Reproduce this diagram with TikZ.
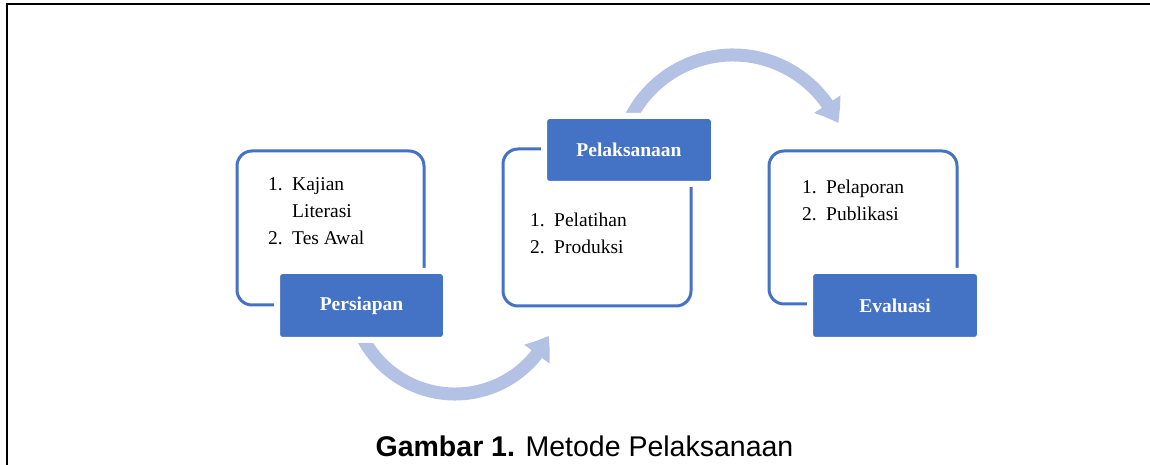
\documentclass[tikz,border=0pt]{standalone}
\usepackage{fontspec}
\setmainfont{Liberation Serif}
\newfontfamily\capfont{Liberation Sans}
\usetikzlibrary{arrows.meta,bending}
\definecolor{boxblue}{RGB}{68,114,196}
\definecolor{arrowblue}{RGB}{179,194,228}
\tikzset{
  outlinebox/.style={draw=boxblue, line width=3pt, rounded corners=15pt, fill=white, inner sep=0pt},
  labelbox/.style={fill=boxblue, draw=white, line width=6pt, rounded corners=5pt, text=white,
    font=\fontsize{19.5}{24}\selectfont\bfseries, inner sep=0pt},
  listtext/.style={anchor=base west, inner sep=0pt, font=\fontsize{19.5}{27}\selectfont},
  bigarrow/.style={arrowblue, line width=13pt, -{Triangle[width=30pt,length=22pt,bend]}},
}
\newcommand{\itemlist}[1]{\begin{tabular}[t]{@{}p{24pt}@{}l@{}}#1\end{tabular}}
\begin{document}
\begin{tikzpicture}[x=1pt,y=1pt]
\useasboundingbox (0,0) rectangle (1150,465);
% frame
\draw[line width=2.4pt] (7,0) -- (7,461) -- (1150,461);

% curved arrows (drawn first, so boxes cover their tails)
\coordinate (a1s) at ({455+104*cos(200)},{175+104*sin(200)});
\draw[bigarrow] (a1s) arc[start angle=200, end angle=334, radius=104];
\coordinate (a2s) at ({733+115*cos(158)},{295+115*sin(158)});
\draw[bigarrow] (a2s) arc[start angle=158, end angle=24, radius=115];

% box 1
\node[outlinebox, minimum width=187pt, minimum height=154pt] (o1) at (330.5,237) {};
\node[listtext] (t1) at (268,274) {\itemlist{1. & Kajian\\ & Literasi\\ 2. & Tes Awal}};
\node[labelbox, minimum width=169pt, minimum height=69pt] (p1) at (361.5,159.5) {Persiapan};

% box 2
\node[outlinebox, minimum width=188pt, minimum height=157pt] (o2) at (597,237.5) {};
\node[listtext] (t2) at (530,238) {\itemlist{1. & Pelatihan\\ 2. & Produksi}};
\node[labelbox, minimum width=170pt, minimum height=68pt] (p2) at (629,315) {Pelaksanaan};

% box 3
\node[outlinebox, minimum width=188pt, minimum height=153pt] (o3) at (863,237.5) {};
\node[listtext] (t3) at (802,271) {\itemlist{1. & Pelaporan\\ 2. & Publikasi}};
\node[labelbox, minimum width=170pt, minimum height=69pt] (p3) at (895,159.5) {Evaluasi};

% caption
\node[anchor=base, inner sep=0pt, font=\capfont\fontsize{28.5}{32}\selectfont] (cap) at (584.5,8)
  {\textbf{Gambar 1.} Metode Pelaksanaan};
\end{tikzpicture}
\end{document}
